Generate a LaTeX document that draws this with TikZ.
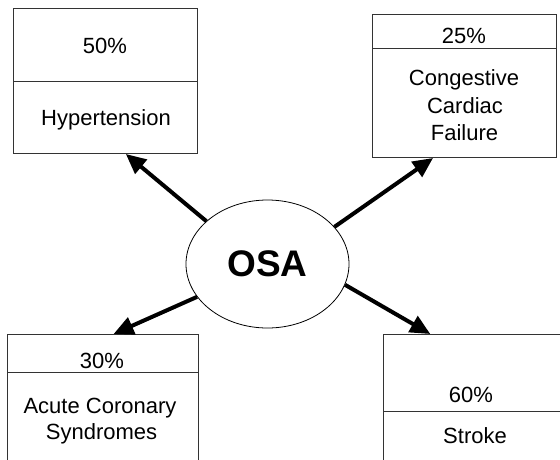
\documentclass[tikz,border=0pt]{standalone}
\usepackage{fontspec}
\setmainfont{Liberation Sans}
\usetikzlibrary{arrows.meta,calc,shapes.geometric}
\tikzset{
  box/.style={draw=black!80, line width=1pt, rectangle, inner sep=0pt, anchor=north west},
  divider/.style={draw=black!80, line width=1pt},
  lbl/.style={inner sep=0pt, anchor=base, font=\fontsize{22}{26}\selectfont},
  arr/.style={line width=4pt, -{Triangle[length=20pt,width=18pt]}},
}
\begin{document}
\begin{tikzpicture}[x=1pt,y=-1pt]
\clip (0,0) rectangle (560,459);
\fill[white] (0,0) rectangle (560,459);
% boxes
\node[box, minimum width=184pt, minimum height=145pt] (hyp) at (13,8) {};
\node[box, minimum width=184pt, minimum height=143pt] (ccf) at (372,14) {};
\node[box, minimum width=191pt, minimum height=141pt] (acs) at (7,334) {};
\node[box, minimum width=192pt, minimum height=141pt] (str) at (383,334) {};
% dividers
\draw[divider] ($(hyp.north west)+(0,73)$) -- ($(hyp.north east)+(0,73)$);
\draw[divider] ($(ccf.north west)+(0,34)$) -- ($(ccf.north east)+(0,34)$);
\draw[divider] ($(acs.north west)+(0,38)$) -- ($(acs.north east)+(0,38)$);
\draw[divider] ($(str.north west)+(0,77)$) -- ($(str.north east)+(0,77)$);
% texts
\node[lbl] (hyp-p) at (105,53) {50\%};
\node[lbl] (hyp-t) at (106,125) {Hypertension};
\node[lbl] (ccf-p) at (464,43) {25\%};
\node[lbl] (ccf-t1) at (464,85) {Congestive};
\node[lbl] (ccf-t2) at (465,113) {Cardiac};
\node[lbl] (ccf-t3) at (464.5,140) {Failure};
\node[lbl] (acs-p) at (102,368) {30\%};
\node[lbl] (acs-t1) at (100,413) {Acute Coronary};
\node[lbl] (acs-t2) at (101.5,439) {Syndromes};
\node[lbl] (str-p) at (471,402) {60\%};
\node[lbl] (str-t) at (475,443) {Stroke};
% central ellipse
\node[ellipse, draw=black, line width=0.8pt, minimum width=163pt, minimum height=128pt, inner sep=0pt,
      font=\fontsize{37}{40}\selectfont\bfseries] (osa) at (267.5,264) {OSA};
% arrows
\draw[arr] (osa.145) -- ($(hyp.south west)!0.61!(hyp.south east)$);
\draw[arr] (osa.29.5) -- ($(ccf.south west)!0.33!(ccf.south east)$);
\draw[arr] (osa.205) -- ($(acs.north west)!0.555!(acs.north east)$);
\draw[arr] (osa.345) -- ($(str.north west)!0.245!(str.north east)$);
\end{tikzpicture}
\end{document}
